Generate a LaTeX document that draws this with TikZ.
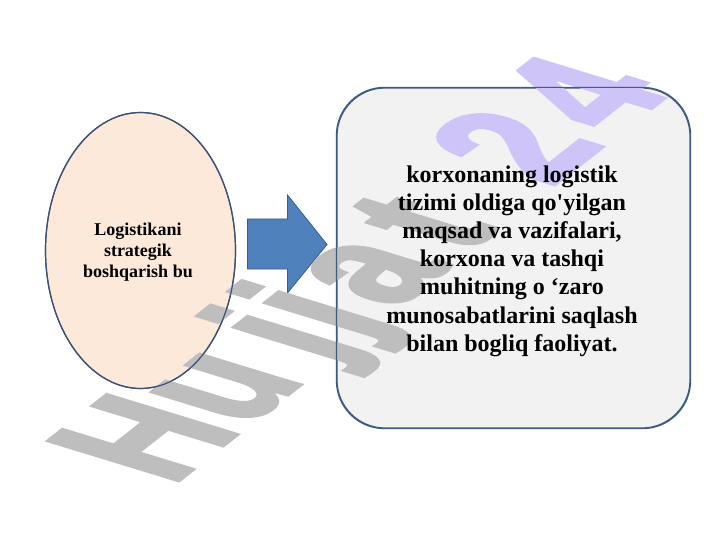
\documentclass[tikz,border=0pt]{standalone}
\usepackage{fontspec}
\setmainfont{Liberation Serif}[Ligatures=TeXOff]
\newfontfamily\wmfont{Liberation Sans}[BoldFeatures={FakeBold=3}]
\usetikzlibrary{shapes.geometric}
\definecolor{peach}{RGB}{253,233,218}
\definecolor{navy}{RGB}{58,80,118}
\definecolor{boxfill}{RGB}{242,242,242}
\definecolor{boxline}{RGB}{62,92,130}
\definecolor{arrowfill}{RGB}{79,129,189}
\definecolor{arrowline}{RGB}{56,93,138}
\definecolor{wmgray}{RGB}{190,190,190}
\definecolor{wmpurple}{RGB}{206,196,248}
\tikzset{
  oval/.style={ellipse, draw=navy, line width=1.2pt, fill=peach, minimum width=190pt, minimum height=276pt, inner sep=0pt},
  roundbox/.style={draw=boxline, line width=1.2pt, fill=boxfill, rounded corners=48pt, minimum width=353pt, minimum height=340pt, inner sep=0pt},
  smalltext/.style={font=\fontsize{18}{21}\selectfont\bfseries, align=center},
  bigtext/.style={font=\fontsize{24}{28.2}\selectfont\bfseries, align=center},
  blockarrow/.style={fill=arrowfill, draw=arrowline, line width=0.8pt},
  watermark/.style={anchor=base west, inner sep=0pt, transform shape, font=\wmfont\bfseries\fontsize{100}{100}\selectfont}
}
\begin{document}
\begin{tikzpicture}[x=1pt,y=-1pt]
\useasboundingbox (0,0) rectangle (720,540);
\fill[white] (0,0) rectangle (720,540);
\node[oval] (ell) at (140.5,250.5) {};
\node[roundbox] (box) at (513.5,258) {};
\draw[blockarrow] (247.5,219) -- (287.5,219) -- (287.5,195) -- (327,244.5) -- (287.5,293) -- (287.5,269) -- (247.5,269) -- cycle;
\begin{scope}[cm={0.998,0.786,-1.874,0.573,(171.1,485.9)}]
\node[watermark] (wm) at (0,0) {\textcolor{wmgray}{H\kern0.022emu\kern0.204emj\kern0.034emj\kern0.096ema\kern0.15emt}\kern0.515em\textcolor{wmpurple}{2\kern0.119em4}};
\end{scope}
\draw[navy, line width=1.2pt] (ell.center) ellipse [x radius=95pt, y radius=138pt];
\draw[boxline, line width=1.2pt, rounded corners=48pt] (box.south west) rectangle (box.north east);
\node[smalltext] (elltext) at (138,252) {Logistikani\\strategik\\boshqarish bu};
\node[bigtext] (boxtext) at (512,261) {korxonaning logistik\\tizimi oldiga qo'yilgan\\maqsad va vazifalari,\\korxona va tashqi\\muhitning o ‘zaro\\munosabatlarini saqlash\\bilan bogliq faoliyat.};
\end{tikzpicture}
\end{document}
